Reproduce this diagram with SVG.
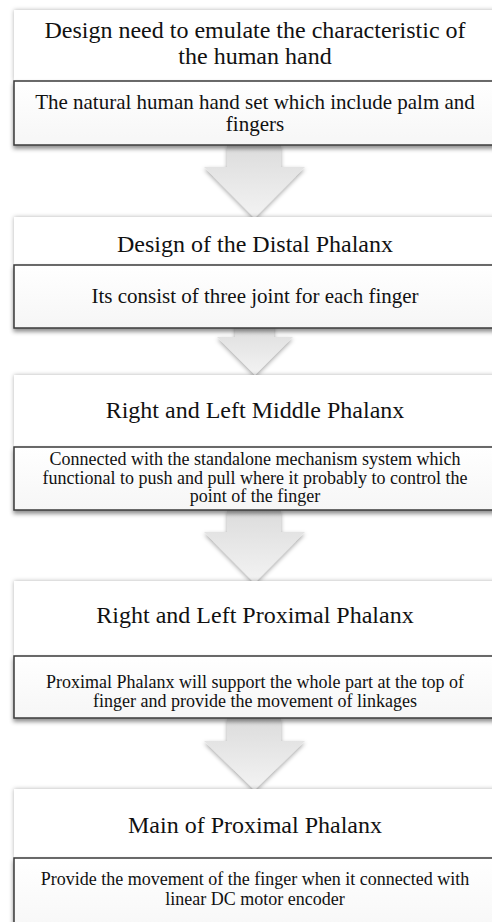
<svg xmlns="http://www.w3.org/2000/svg" width="492" height="922" viewBox="0 0 492 922">
  <defs>
    <linearGradient id="arrowGrad" x1="0" y1="0" x2="0" y2="1">
      <stop offset="0" stop-color="#dcdcdc"/>
      <stop offset="1" stop-color="#f3f3f3"/>
    </linearGradient>
    <linearGradient id="subGrad" x1="0" y1="0" x2="0" y2="1">
      <stop offset="0" stop-color="#ffffff"/>
      <stop offset="1" stop-color="#f6f6f6"/>
    </linearGradient>
    <filter id="softShadow" x="-10%" y="-20%" width="120%" height="140%">
      <feDropShadow dx="0" dy="0" stdDeviation="2" flood-color="#000" flood-opacity="0.3"/>
    </filter>
    <filter id="subShadow" x="-10%" y="-20%" width="120%" height="150%">
      <feDropShadow dx="0" dy="3" stdDeviation="2" flood-color="#000" flood-opacity="0.45"/>
    </filter>
    <filter id="arrowShadow" x="-30%" y="-30%" width="160%" height="160%">
      <feDropShadow dx="0" dy="2" stdDeviation="2" flood-color="#000" flood-opacity="0.35"/>
    </filter>
  </defs>
  <style>
    .hdr { fill: #ffffff; filter: url(#softShadow); }
    .sub { fill: url(#subGrad); stroke: #3a3a3a; stroke-width: 1.5; filter: url(#subShadow); }
    .arrow { fill: url(#arrowGrad); filter: url(#arrowShadow); }
    text { font-family: "Liberation Serif", "Times New Roman", serif; fill: #111; text-anchor: middle; }
    .h { font-size: 24px; }
    .s1 { font-size: 21px; }
    .s2 { font-size: 18px; }
  </style>
  <rect width="492" height="922" fill="#ffffff"/>

  <g id="connectors">
    <path class="arrow" d="M227,145 H281 V167 H305 L254.5,218 L204,167 H227 Z"/>
    <path class="arrow" d="M235,322 H274 V337 H293 L255,375 L217,337 H235 Z"/>
    <path class="arrow" d="M227,510 H281 V532 H305 L254.5,583 L204,532 H227 Z"/>
    <path class="arrow" d="M227,718 H281 V741 H305 L254.5,790 L204,741 H227 Z"/>
  </g>

  <g id="node1">
    <rect class="hdr" x="14" y="10" width="490" height="71"/>
    <rect class="sub" x="14" y="81" width="490" height="64"/>
    <text class="h" x="255" y="38">Design need to emulate the characteristic of</text>
    <text class="h" x="255" y="64">the human hand</text>
    <text class="s1" x="255" y="109">The natural human hand set which include palm and</text>
    <text class="s1" x="255" y="131">fingers</text>
  </g>

  <g id="node2">
    <rect class="hdr" x="14" y="217" width="490" height="48"/>
    <rect class="sub" x="14" y="265" width="490" height="63"/>
    <text class="h" x="255" y="252">Design of the Distal Phalanx</text>
    <text class="s1" x="255" y="303">Its consist of three joint for each finger</text>
  </g>

  <g id="node3">
    <rect class="hdr" x="14" y="375" width="490" height="72"/>
    <rect class="sub" x="14" y="447" width="490" height="63"/>
    <text class="h" x="255" y="418">Right and Left Middle Phalanx</text>
    <text class="s2" x="255" y="465">Connected with the standalone mechanism system which</text>
    <text class="s2" x="255" y="483.5">functional to push and pull where it probably to control the</text>
    <text class="s2" x="255" y="502">point of the finger</text>
  </g>

  <g id="node4">
    <rect class="hdr" x="14" y="581" width="490" height="75"/>
    <rect class="sub" x="14" y="656" width="490" height="62"/>
    <text class="h" x="255" y="623">Right and Left Proximal Phalanx</text>
    <text class="s2" x="255" y="688">Proximal Phalanx will support the whole part at the top of</text>
    <text class="s2" x="255" y="707">finger and provide the movement of linkages</text>
  </g>

  <g id="node5">
    <rect class="hdr" x="14" y="789" width="490" height="69"/>
    <rect class="sub" x="14" y="858" width="490" height="80"/>
    <text class="h" x="255" y="833">Main of Proximal Phalanx</text>
    <text class="s2" x="255" y="885">Provide the movement of the finger when it connected with</text>
    <text class="s2" x="255" y="905">linear DC motor encoder</text>
  </g>
</svg>
